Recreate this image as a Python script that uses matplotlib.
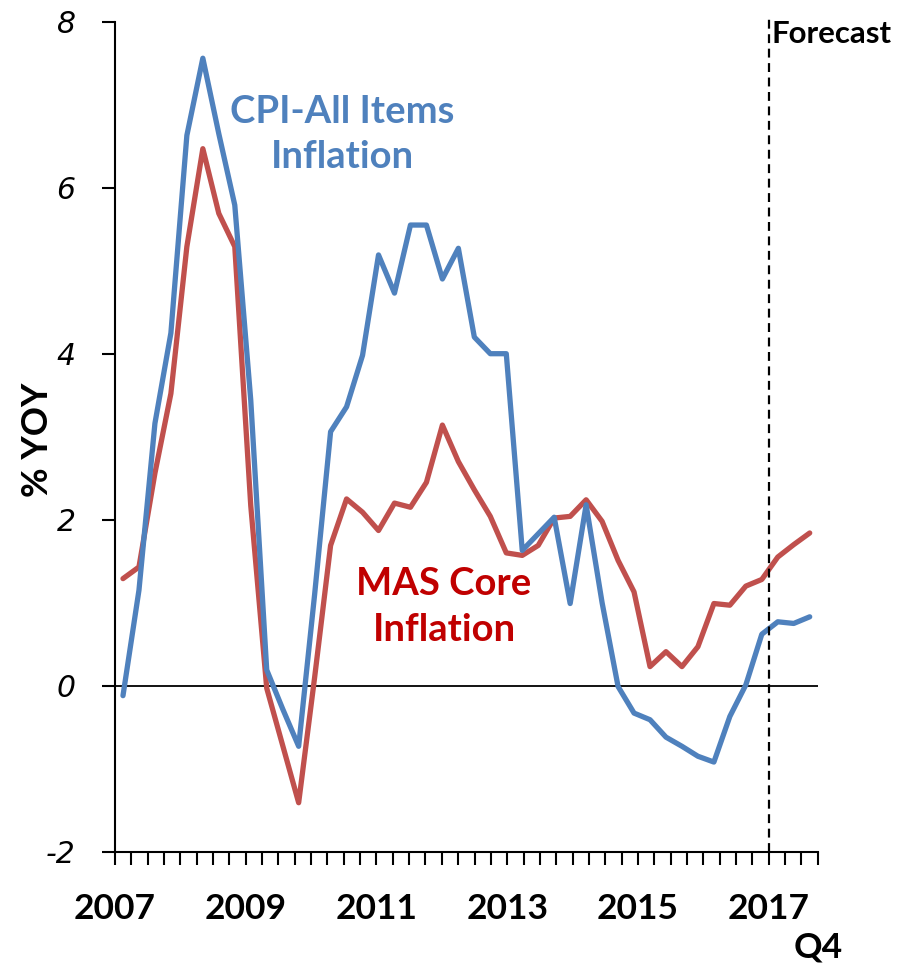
import numpy as np
import matplotlib
matplotlib.use("Agg")
import matplotlib.pyplot as plt

# Quarterly year-on-year inflation, 2007Q1 .. 2017Q4 (last three quarters are forecasts)
quarters = [f"{y}Q{q}" for y in range(2007, 2018) for q in range(1, 5)]

cpi_all_items = [
    -0.12, 1.15, 3.16, 4.25, 6.63, 7.56, 6.65, 5.79,
    3.44, 0.19, -0.28, -0.73, 1.10, 3.06, 3.36, 3.98,
    5.19, 4.73, 5.55, 5.55, 4.90, 5.27, 4.20, 4.00,
    4.00, 1.63, 1.83, 2.03, 0.99, 2.18, 1.00, -0.01,
    -0.33, -0.41, -0.62, -0.73, -0.85, -0.92, -0.37, 0.01,
    0.62, 0.77, 0.75, 0.83,
]
mas_core = [
    1.29, 1.43, 2.56, 3.52, 5.29, 6.47, 5.69, 5.29,
    2.17, -0.03, -0.72, -1.41, 0.10, 1.69, 2.25, 2.09,
    1.87, 2.20, 2.15, 2.45, 3.14, 2.70, 2.36, 2.04,
    1.60, 1.57, 1.69, 2.02, 2.04, 2.24, 1.98, 1.51,
    1.13, 0.23, 0.41, 0.23, 0.47, 0.99, 0.97, 1.20,
    1.28, 1.55, 1.70, 1.84,
]

year_labels = ["2007", "2009", "2011", "2013", "2015", "2017"]
ytick_values = [-2, 0, 2, 4, 6, 8]

BLUE = "#4F81BD"
RED = "#C0504D"
DARK_RED = "#C00000"
BOLD_FONT = ["Lato", "DejaVu Sans"]

fig = plt.figure(figsize=(9.08, 9.64), dpi=100)
W, H = 908, 964
ax = fig.add_axes([115 / W, 1 - 851.7 / H, (817.7 - 115) / W, (851.7 - 21.7) / H])

x = np.arange(len(quarters))
ax.plot(x, cpi_all_items, color=BLUE, lw=3.8, solid_joinstyle="round",
        solid_capstyle="round", zorder=3)
ax.plot(x, mas_core, color=RED, lw=3.8, solid_joinstyle="round",
        solid_capstyle="round", zorder=2)

ax.set_xlim(-0.5, len(quarters) - 0.5)
ax.set_ylim(-2, 8)

for side in ("top", "right"):
    ax.spines[side].set_visible(False)
for side in ("left", "bottom"):
    ax.spines[side].set_linewidth(1.5)
    ax.spines[side].set_color("black")

# category tick marks along the bottom axis
tick_pos = np.linspace(-0.5, len(quarters) - 0.5, 44)
ax.set_xticks(tick_pos[::8], labels=year_labels)
ax.set_xticks(tick_pos, minor=True)
ax.tick_params(axis="x", which="both", direction="out", length=9.4, width=1.5)
ax.tick_params(axis="x", which="major", pad=20)
for lab in ax.get_xticklabels():
    lab.set_fontfamily(BOLD_FONT)
    lab.set_fontweight("bold")
    lab.set_fontsize(25.5)

ax.text(tick_pos[-1], -0.115, "Q4", transform=ax.get_xaxis_transform(),
        ha="center", va="center", fontsize=25.5, fontweight="bold",
        family=BOLD_FONT, clip_on=False)

ax.set_yticks(ytick_values, labels=[str(v) for v in ytick_values])
ax.tick_params(axis="y", direction="out", length=9.4, width=1.5, pad=19)
for lab in ax.get_yticklabels():
    lab.set_fontstyle("italic")
    lab.set_fontsize(21.5)
    lab.set_fontfamily("DejaVu Sans")

fig.text(37 / W, 1 - 440 / H, "% YOY", rotation=90, ha="center", va="center",
         fontsize=26, fontweight="bold", family=BOLD_FONT)

# zero reference line
ax.axhline(0, color="black", lw=1.3, zorder=1)

# forecast divider
fx = tick_pos[40]
ax.plot([fx, fx], [-2, 8.05], color="black", lw=1.6, linestyle=(0, (4, 2.5)),
        clip_on=False, zorder=4)
ax.text(fx + 0.2, 7.85, "Forecast", ha="left", va="center", fontsize=22.5,
        fontweight="bold", family=BOLD_FONT, clip_on=False)

ax.text(13.75, 6.64, "CPI-All Items\nInflation", color=BLUE, ha="center",
        va="center", fontsize=27.5, fontweight="bold", family=BOLD_FONT,
        linespacing=1.42)
ax.text(20.1, 0.95, "MAS Core\nInflation", color=DARK_RED, ha="center",
        va="center", fontsize=27.5, fontweight="bold", family=BOLD_FONT,
        linespacing=1.42)

fig.savefig("out.png", dpi=100, facecolor="white")
